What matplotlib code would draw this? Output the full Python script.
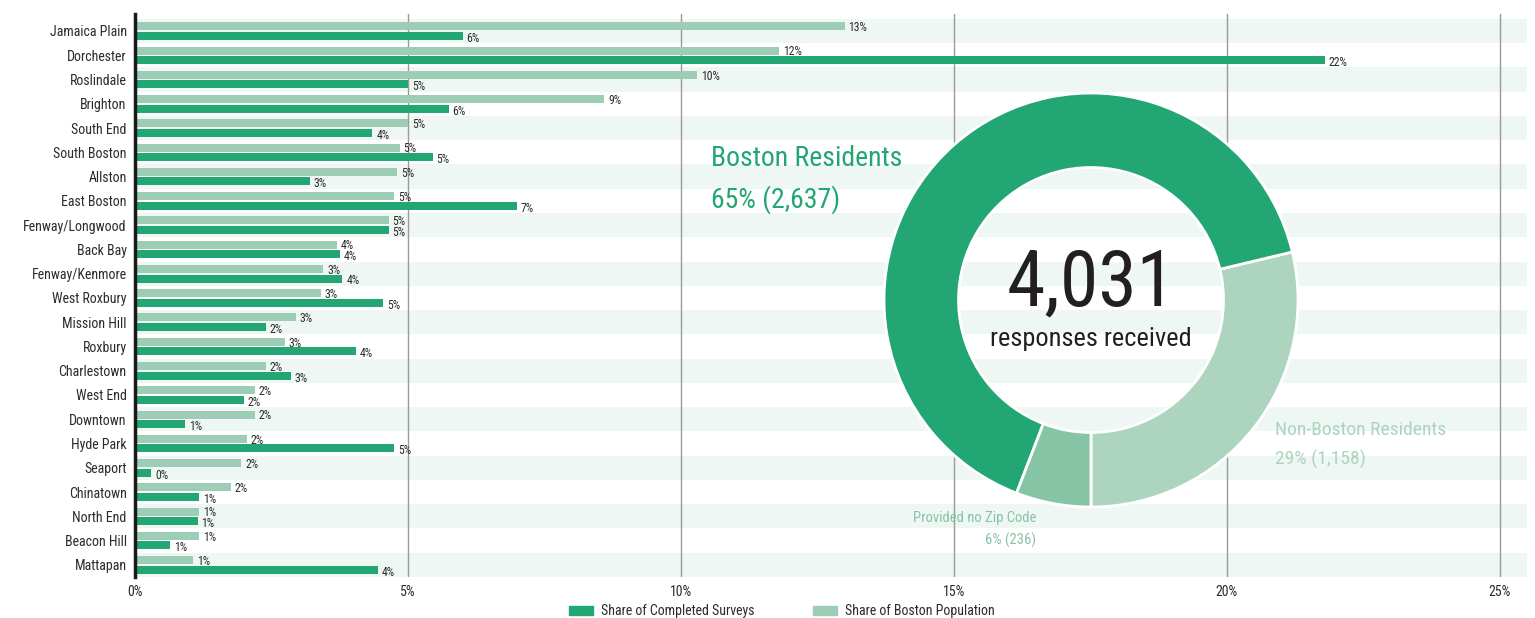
import matplotlib
matplotlib.use("Agg")
import matplotlib.pyplot as plt
from matplotlib import font_manager
from matplotlib.patches import Patch

# neighborhood shares, in percent
neighborhoods = ["Jamaica Plain", "Dorchester", "Roslindale", "Brighton", "South End",
                 "South Boston", "Allston", "East Boston", "Fenway/Longwood", "Back Bay",
                 "Fenway/Kenmore", "West Roxbury", "Mission Hill", "Roxbury", "Charlestown",
                 "West End", "Downtown", "Hyde Park", "Seaport", "Chinatown", "North End",
                 "Beacon Hill", "Mattapan"]
population_share = [13.0, 11.8, 10.3, 8.6, 5.0, 4.85, 4.8, 4.75, 4.65, 3.7, 3.45, 3.4,
                    2.95, 2.75, 2.4, 2.2, 2.2, 2.05, 1.95, 1.75, 1.17, 1.17, 1.06]
survey_share = [6.0, 21.8, 5.0, 5.75, 4.35, 5.45, 3.2, 7.0, 4.65, 3.75, 3.8, 4.55,
                2.4, 4.05, 2.85, 2.0, 0.92, 4.75, 0.3, 1.17, 1.15, 0.65, 4.45]
x_ticks = [0, 5, 10, 15, 20, 25]

# response breakdown for the donut
response_groups = ["Non-Boston Residents", "Boston Residents", "Provided no Zip Code"]
response_counts = [1158, 2637, 236]
total_responses = 4031

DARK = "#22a673"
LIGHT = "#9dcdb5"
DONUT_COLORS = ["#acd4bf", DARK, "#86c4a6"]
STRIPE = "#eef7f3"
TEXT = "#2b2b2b"

# pick a narrow face if one is around
installed = {f.name for f in font_manager.fontManager.ttflist}
narrow = None
for name in ["Roboto Condensed", "Liberation Sans Narrow", "Open Sans Condensed",
             "DejaVu Sans Condensed"]:
    if name in installed:
        narrow = name
        break
if narrow:
    plt.rcParams["font.family"] = [narrow, "DejaVu Sans"]
else:
    plt.rcParams["font.family"] = ["DejaVu Sans"]
    plt.rcParams["font.stretch"] = "condensed"

W, H = 1535, 618
fig = plt.figure(figsize=(W / 100, H / 100), dpi=100)


def fx(x):
    return x / W


def fy(y):
    return 1 - y / H


ax = fig.add_axes([fx(135), fy(577), fx(1527) - fx(135), fy(14) - fy(577)])
n = len(neighborhoods)
rows = list(range(n))

# alternating background bands
for i in rows:
    if i % 2 == 0:
        ax.axhspan(i - 0.5, i + 0.5, color=STRIPE, zorder=0, lw=0)

ax.barh([r - 0.195 for r in rows], population_share, height=0.33, color=LIGHT, zorder=2)
ax.barh([r + 0.2 for r in rows], survey_share, height=0.33, color=DARK, zorder=2)

for r, v in zip(rows, population_share):
    ax.text(v + 0.07, r - 0.14, f"{v:.0f}%", fontsize=8.5, color=TEXT, va="center", zorder=3)
for r, v in zip(rows, survey_share):
    ax.text(v + 0.07, r + 0.3, f"{v:.0f}%", fontsize=8.5, color=TEXT, va="center", zorder=3)

ax.set_xlim(0, 25.5)
ax.set_ylim(n - 0.5, -0.7)
ax.set_xticks(x_ticks)
ax.set_xticklabels([f"{t}%" for t in x_ticks], fontsize=10, color=TEXT)
ax.set_yticks(rows)
ax.set_yticklabels(neighborhoods, fontsize=10, color=TEXT)
ax.tick_params(length=0, pad=6)
ax.tick_params(axis="y", pad=6)
ax.xaxis.grid(True, color="#9a9a9a", linewidth=1.0, zorder=1)
ax.set_axisbelow(True)
for side in ["top", "right", "bottom"]:
    ax.spines[side].set_visible(False)
ax.spines["left"].set_color("#1a1a1a")
ax.spines["left"].set_linewidth(2.5)
ax.spines["left"].set_zorder(4)
ax.patch.set_alpha(0)

# donut of all responses
cx, cy, rad = 1091, 300, 207
dax = fig.add_axes([fx(cx - rad), fy(cy + rad), 2 * rad / W, 2 * rad / H])
dax.pie(response_counts, colors=DONUT_COLORS, startangle=-90, counterclock=True,
        radius=1, wedgeprops=dict(width=0.36, edgecolor="white", linewidth=2))
dax.set_xlim(-1, 1)
dax.set_ylim(-1, 1)
dax.set_aspect("equal")
dax.axis("off")

fig.text(fx(cx), fy(284), f"{total_responses:,}", fontsize=56, color="#231f20",
         ha="center", va="center")
fig.text(fx(cx), fy(339), "responses received", fontsize=19, color="#231f20",
         ha="center", va="center")

shares = [c / total_responses * 100 for c in response_counts]
fig.text(fx(711), fy(158), response_groups[1], fontsize=20, color=DARK, va="center")
fig.text(fx(711), fy(200), f"{shares[1]:.0f}% ({response_counts[1]:,})", fontsize=20,
         color=DARK, va="center")
fig.text(fx(1275), fy(430), response_groups[0], fontsize=14, color=DONUT_COLORS[0], va="center")
fig.text(fx(1275), fy(459), f"{shares[0]:.0f}% ({response_counts[0]:,})", fontsize=14,
         color=DONUT_COLORS[0], va="center")
fig.text(fx(1036), fy(518), response_groups[2], fontsize=10.5, color=DONUT_COLORS[2],
         va="center", ha="right")
fig.text(fx(1036), fy(540), f"{shares[2]:.0f}% ({response_counts[2]:,})", fontsize=10.5,
         color=DONUT_COLORS[2], va="center", ha="right")

handles = [Patch(color=DARK), Patch(color=LIGHT)]
fig.legend(handles, ["Share of Completed Surveys", "Share of Boston Population"],
           loc="center", bbox_to_anchor=(fx(782), fy(611)), ncol=2, frameon=False,
           fontsize=10, handlelength=1.7, handleheight=0.6, handletextpad=0.6,
           columnspacing=4.2, labelcolor=TEXT)

fig.savefig("out.png", dpi=100)
